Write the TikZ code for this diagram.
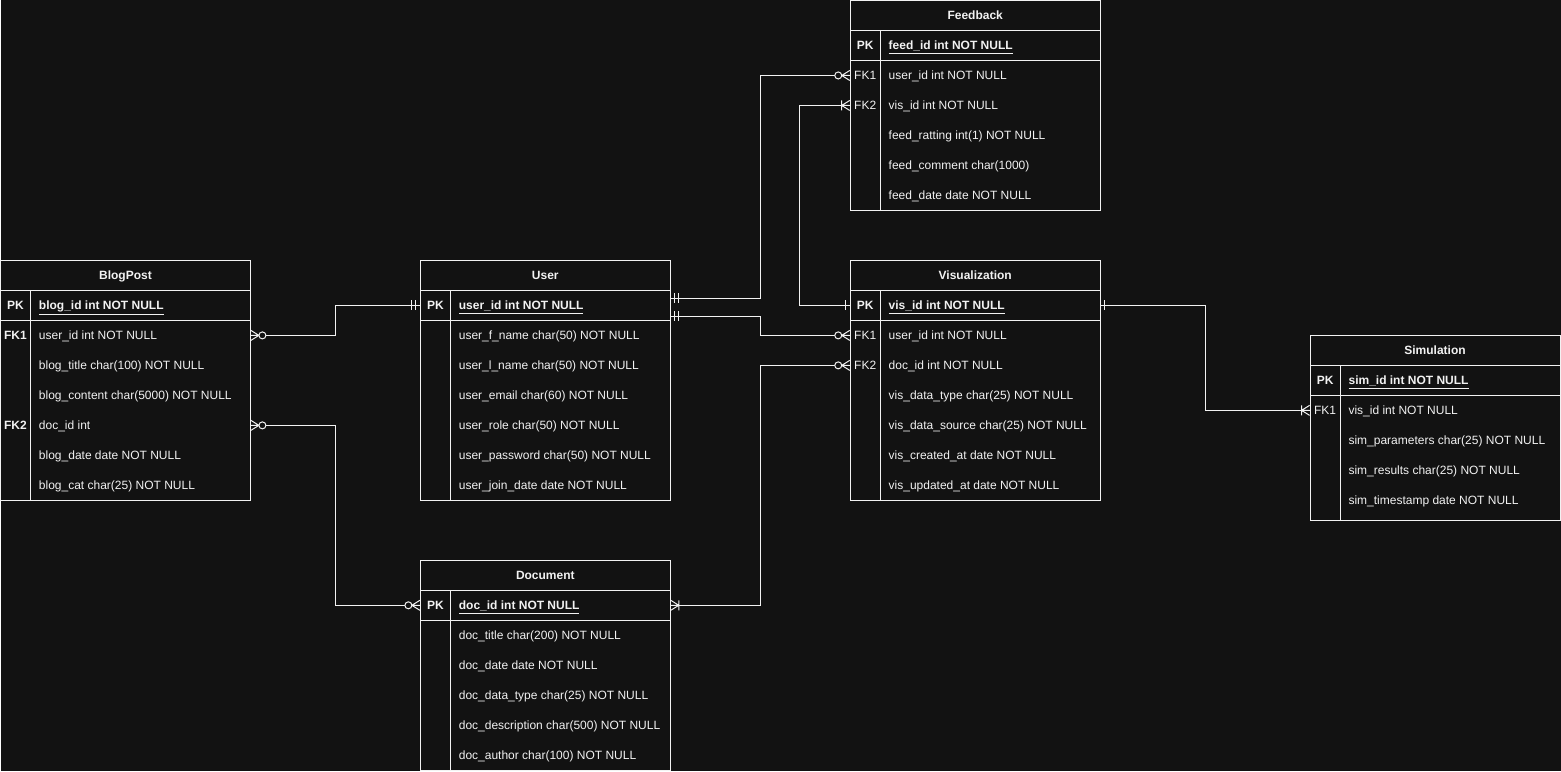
\documentclass[tikz,border=0pt]{standalone}
\usepackage{fontspec}
\setmainfont{Liberation Sans}
\usetikzlibrary{calc}

\definecolor{erbg}{HTML}{121212}
\definecolor{erfg}{HTML}{F2F2F2}

% one entity: name, left, top, bottom, title, primary key, other rows (key/field)
\newcommand{\erdtable}[7]{%
  \draw ({#2},{#3}) rectangle ({#2+250},{#4});
  \draw ({#2},{#3+30}) -- ++(250,0) ({#2},{#3+60}) -- ++(250,0)
        ({#2+30},{#3+30}) -- ({#2+30},{#4});
  \node[ertitle] (#1) at ({#2+125},{#3+15}) {#5};
  \node[errow] (#1pk) at ({#2+125},{#3+45}) {};
  \node[erkey] at ({#2+15},{#3+45}) {\textbf{PK}};
  \node[erfield, font=\erfont\bfseries] at ({#2+38},{#3+45}) {\underline{#6}};
  \foreach \k/\f [count=\i] in {#7} {
    \node[errow] (#1-\i) at ({#2+125},{#3+45+30*\i}) {};
    \node[erkey] at ({#2+15},{#3+45+30*\i}) {\k};
    \node[erfield] at ({#2+38},{#3+45+30*\i}) {\f};
  }%
}
\newcommand{\erfont}{\fontsize{9}{11}\selectfont}

\begin{document}
\begin{tikzpicture}[x=0.75pt, y=-0.75pt, line width=0.75pt, color=erfg,
    ertitle/.style={font=\erfont\bfseries, inner sep=0pt, text height=6.5pt, text depth=0pt},
    errow/.style={minimum width=187.5pt, minimum height=22.5pt, inner sep=0pt},
    erkey/.style={font=\erfont, inner sep=0pt, text height=6.5pt, text depth=0pt},
    erfield/.style={font=\erfont, anchor=west, inner sep=0pt, text height=6.5pt, text depth=0pt},
    pics/zeromany/.style={code={
      \draw (0,-5) -- (8,0) -- (0,5) (0,0) -- (8,0);
      \draw[fill=erbg] (11.5,0) circle[radius=3.5];}},
    pics/mandone/.style={code={\draw (4,-5) -- (4,5) (8,-5) -- (8,5);}},
    pics/justone/.style={code={\draw (4,-5) -- (4,5);}},
    pics/onemany/.style={code={
      \draw (0,-5) -- (8,0) -- (0,5) (0,0) -- (8,0) (8,-5) -- (8,5);}},
  ]
  \fill[erbg] (0,0) rectangle (1561,771);

  \erdtable{blog}{0}{260}{500}{BlogPost}{blog\_id int NOT NULL}
    {\textbf{FK1}/user\_id int NOT NULL, /blog\_title char(100) NOT NULL,
     /blog\_content char(5000) NOT NULL, \textbf{FK2}/doc\_id int,
     /blog\_date date NOT NULL, /blog\_cat char(25) NOT NULL}
  \erdtable{user}{420}{260}{500}{User}{user\_id int NOT NULL}
    {/user\_f\_name char(50) NOT NULL, /user\_l\_name char(50) NOT NULL,
     /user\_email char(60) NOT NULL, /user\_role char(50) NOT NULL,
     /user\_password char(50) NOT NULL, /user\_join\_date date NOT NULL}
  \erdtable{doc}{420}{560}{770}{Document}{doc\_id int NOT NULL}
    {/doc\_title char(200) NOT NULL, /doc\_date date NOT NULL,
     /doc\_data\_type char(25) NOT NULL, /doc\_description char(500) NOT NULL,
     /doc\_author char(100) NOT NULL}
  \erdtable{feed}{850}{0}{210}{Feedback}{feed\_id int NOT NULL}
    {FK1/user\_id int NOT NULL, FK2/vis\_id int NOT NULL,
     /feed\_ratting int(1) NOT NULL, /feed\_comment char(1000),
     /feed\_date date NOT NULL}
  \erdtable{vis}{850}{260}{500}{Visualization}{vis\_id int NOT NULL}
    {FK1/user\_id int NOT NULL, FK2/doc\_id int NOT NULL,
     /vis\_data\_type char(25) NOT NULL, /vis\_data\_source char(25) NOT NULL,
     /vis\_created\_at date NOT NULL, /vis\_updated\_at date NOT NULL}
  \erdtable{sim}{1310}{335}{520}{Simulation}{sim\_id int NOT NULL}
    {FK1/vis\_id int NOT NULL, /sim\_parameters char(25) NOT NULL,
     /sim\_results char(25) NOT NULL, /sim\_timestamp date NOT NULL}

  \coordinate (userfeed) at ($(userpk.east)+(0,-7)$);
  \coordinate (uservis) at ($(userpk.east)+(0,11)$);

  % relations
  \draw (blog-1.east) -- ++(85,0) |- (userpk.west);
  \draw (blog-4.east) -- ++(85,0) |- (docpk.west);
  \draw (userfeed) -- ++(90,0) |- (feed-1.west);
  \draw (uservis) -- ++(90,0) |- (vis-1.west);
  \draw (docpk.east) -- ++(90,0) |- (vis-2.west);
  \draw (vispk.west) -- ++(-50,0) |- (feed-2.west);
  \draw (vispk.east) -- ++(105,0) |- (sim-1.west);

  % cardinality marks
  \pic at (blog-1.east) {zeromany};
  \pic[xscale=-1] at (userpk.west) {mandone};
  \pic at (blog-4.east) {zeromany};
  \pic[xscale=-1] at (docpk.west) {zeromany};
  \pic at (userfeed) {mandone};
  \pic[xscale=-1] at (feed-1.west) {zeromany};
  \pic at (uservis) {mandone};
  \pic[xscale=-1] at (vis-1.west) {zeromany};
  \pic at (docpk.east) {onemany};
  \pic[xscale=-1] at (vis-2.west) {zeromany};
  \pic[xscale=-1] at (vispk.west) {justone};
  \pic[xscale=-1] at (feed-2.west) {onemany};
  \pic at (vispk.east) {justone};
  \pic[xscale=-1] at (sim-1.west) {onemany};
\end{tikzpicture}
\end{document}
